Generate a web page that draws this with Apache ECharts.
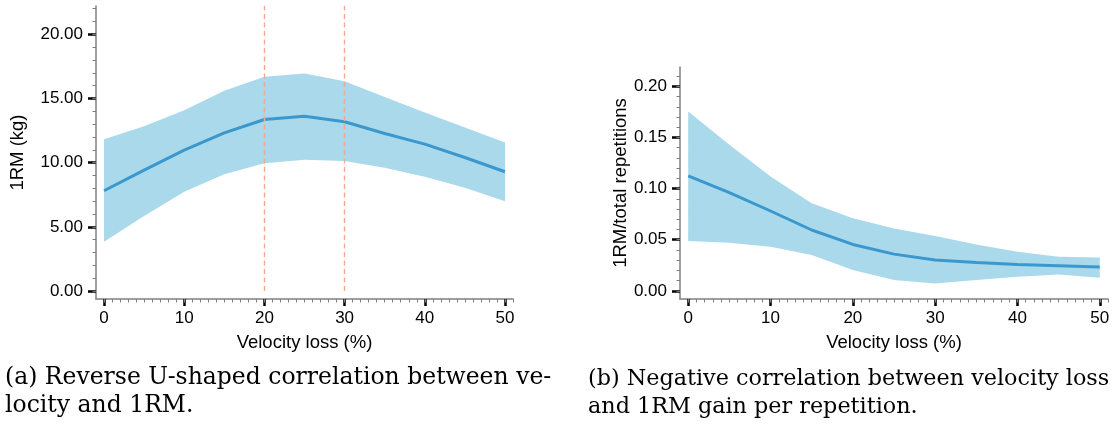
<!DOCTYPE html>
<html>
<head>
<meta charset="utf-8">
<title>Velocity loss vs 1RM</title>
<script src="https://cdn.jsdelivr.net/npm/echarts@6.0.0/dist/echarts.min.js"></script>
<style>
  html, body { margin: 0; padding: 0; background: #fff; }
  #main { width: 1118px; height: 436px; }
</style>
</head>
<body>
<div id="main"></div>
<script>
// velocity loss (%) sampled every 5
const velocityLoss = [0, 5, 10, 15, 20, 25, 30, 35, 40, 45, 50];

// (a) 1RM (kg): mean and band
const rmMean  = [7.81, 9.42, 10.97, 12.32, 13.36, 13.62, 13.18, 12.27, 11.44, 10.40, 9.29];
const rmUpper = [11.83, 12.84, 14.09, 15.59, 16.68, 16.94, 16.34, 15.12, 13.90, 12.74, 11.57];
const rmLower = [3.84, 5.84, 7.73, 9.10, 9.96, 10.22, 10.12, 9.60, 8.90, 8.04, 7.00];

// (b) 1RM / total repetitions: mean and band
const ratioMean  = [0.1124, 0.0961, 0.0781, 0.0595, 0.0454, 0.0359, 0.0301, 0.0278, 0.0258, 0.0245, 0.0232];
const ratioUpper = [0.1755, 0.1430, 0.1118, 0.0856, 0.0709, 0.0611, 0.0536, 0.0454, 0.0382, 0.0333, 0.0327];
const ratioLower = [0.0487, 0.0471, 0.0431, 0.0350, 0.0203, 0.0105, 0.0072, 0.0105, 0.0137, 0.0160, 0.0127];

// reference lines in (a)
const refLines = [20, 30];

// tick labels
const xTicks = [0, 10, 20, 30, 40, 50];
const rmTicks = [0, 5, 10, 15, 20];
const ratioTicks = [0, 0.05, 0.10, 0.15, 0.20];

const xMinor = [];
for (let i = 0; i <= 51; i++) xMinor.push(i);
const rmMinor = [];
for (let i = 0; i <= 22; i++) rmMinor.push(i);
const ratioMinor = [];
for (let i = 0; i <= 21; i++) ratioMinor.push(+(i / 100).toFixed(2));

const pairs = (xs, ys) => xs.map((x, i) => [x, ys[i]]);
const triples = (xs, lo, hi) => xs.map((x, i) => [x, lo[i], hi[i]]);

const sans = '"Liberation Sans", Arial, Helvetica, sans-serif';
const axisGray = '#808080';
const bandColor = 'rgba(84,180,214,0.5)';
const lineColor = '#3A98CF';

function majorX(grid) {
  return {
    gridIndex: grid, type: 'value', min: -1, max: 51, position: 'bottom',
    name: 'Velocity loss (%)', nameLocation: 'middle', nameGap: 34,
    nameTextStyle: { fontFamily: sans, fontSize: 18.5, color: '#000' },
    axisLine: { onZero: false, lineStyle: { color: axisGray, width: 1.5 } },
    axisTick: { customValues: xTicks, length: 7, lineStyle: { color: '#000', width: 2.5 } },
    axisLabel: { customValues: xTicks, fontFamily: sans, fontSize: 17, color: '#000', margin: 11 },
    splitLine: { show: false }
  };
}
function minorX(grid) {
  return {
    gridIndex: grid, type: 'value', min: -1, max: 51, position: 'bottom',
    axisLine: { show: false, onZero: false },
    axisTick: { customValues: xMinor, length: 3.5, lineStyle: { color: axisGray, width: 1 } },
    axisLabel: { show: false },
    splitLine: { show: false }
  };
}
function majorY(grid, min, max, ticks, digits, name, gap) {
  return {
    gridIndex: grid, type: 'value', min: min, max: max, position: 'left',
    name: name, nameLocation: 'middle', nameGap: gap,
    nameTextStyle: { fontFamily: sans, fontSize: 18.5, color: '#000' },
    axisLine: { onZero: false, lineStyle: { color: axisGray, width: 1.5 } },
    axisTick: { customValues: ticks, length: 8, lineStyle: { color: '#000', width: 2.5 } },
    axisLabel: {
      customValues: ticks, fontFamily: sans, fontSize: 17, color: '#000', margin: 13,
      formatter: v => v.toFixed(digits)
    },
    splitLine: { show: false }
  };
}
function minorY(grid, min, max, ticks) {
  return {
    gridIndex: grid, type: 'value', min: min, max: max, position: 'left',
    axisLine: { show: false, onZero: false },
    axisTick: { customValues: ticks, length: 3.5, lineStyle: { color: axisGray, width: 1 } },
    axisLabel: { show: false },
    splitLine: { show: false }
  };
}

// band polygon: upper edge left->right, lower edge right->left
function bandSeries(xi, yi, lo, hi) {
  return {
    type: 'custom', xAxisIndex: xi, yAxisIndex: yi, z: 3, silent: true,
    encode: { x: 0, y: [1, 2] },
    data: triples(velocityLoss, lo, hi),
    renderItem: function (params, api) {
      if (params.dataIndexInside !== 0) return null;
      const n = params.dataInsideLength;
      const top = [], bottom = [];
      for (let i = 0; i < n; i++) {
        top.push(api.coord([api.value(0, i), api.value(2, i)]));
        bottom.push(api.coord([api.value(0, i), api.value(1, i)]));
      }
      return {
        type: 'polygon',
        shape: { points: top.concat(bottom.reverse()) },
        style: { fill: bandColor }
      };
    }
  };
}
function meanLine(xi, yi, ys) {
  return {
    type: 'line', xAxisIndex: xi, yAxisIndex: yi, z: 4,
    symbol: 'none', silent: true,
    lineStyle: { color: lineColor, width: 3 },
    data: pairs(velocityLoss, ys)
  };
}

const rmMax = 22.2;

const chart = echarts.init(document.getElementById('main'), null, { renderer: 'canvas' });
chart.setOption({
  animation: false,
  backgroundColor: '#fff',
  grid: [
    { left: 96, top: 6, width: 417, height: 293 },
    { left: 680, top: 67, width: 428, height: 232 }
  ],
  xAxis: [majorX(0), minorX(0), majorX(1), minorX(1)],
  yAxis: [
    majorY(0, -0.62, rmMax, rmTicks, 2, '1RM (kg)', 69),
    minorY(0, -0.62, rmMax, rmMinor),
    majorY(1, -0.008, 0.219, ratioTicks, 2, '1RM/total repetitions', 49),
    minorY(1, -0.008, 0.219, ratioMinor)
  ],
  series: [
    {
      // carrier for the dashed reference lines, kept under the band
      type: 'line', xAxisIndex: 0, yAxisIndex: 0, z: 1,
      symbol: 'none', silent: true,
      lineStyle: { opacity: 0 },
      data: pairs(velocityLoss, rmMean),
      markLine: {
        symbol: 'none', silent: true, label: { show: false },
        lineStyle: { color: '#F5A88A', type: [5, 3.5], width: 1.4 },
        data: refLines.map(x => [{ coord: [x, 0] }, { coord: [x, rmMax] }])
      }
    },
    bandSeries(0, 0, rmLower, rmUpper),
    meanLine(0, 0, rmMean),
    bandSeries(2, 2, ratioLower, ratioUpper),
    meanLine(2, 2, ratioMean)
  ],
  graphic: [
    {
      type: 'text', left: 5, top: 364,
      style: {
        text: '(a) Reverse U-shaped correlation between ve-\nlocity and 1RM.',
        font: '23.5px "DejaVu Serif"', lineHeight: 28, fill: '#000'
      }
    },
    {
      type: 'text', left: 588, top: 365,
      style: {
        text: '(b) Negative correlation between velocity loss\nand 1RM gain per repetition.',
        font: '22.3px "DejaVu Serif"', lineHeight: 28, fill: '#000'
      }
    }
  ]
});
</script>
</body>
</html>
